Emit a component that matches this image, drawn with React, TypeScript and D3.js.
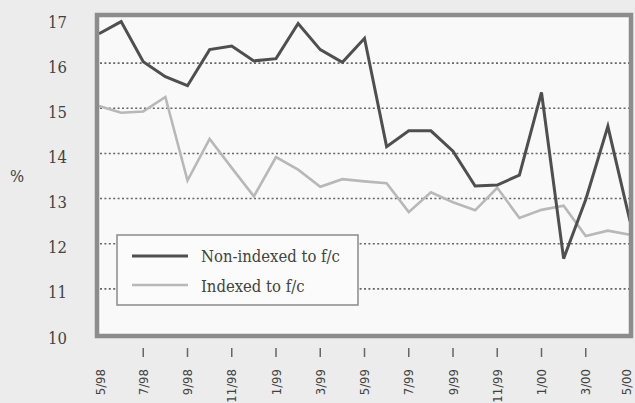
import React from "react";
import * as d3 from "d3";

const months = [
  "5/98","6/98","7/98","8/98","9/98","10/98","11/98","12/98",
  "1/99","2/99","3/99","4/99","5/99","6/99","7/99","8/99","9/99","10/99","11/99","12/99",
  "1/00","2/00","3/00","4/00","5/00",
];
const nonIndexed = [
  16.65, 16.92, 16.03, 15.7, 15.5, 16.3, 16.38, 16.05,
  16.1, 16.88, 16.3, 16.02, 16.55, 14.15, 14.5, 14.5, 14.05, 13.28, 13.3, 13.52,
  15.35, 11.67, 12.98, 14.6, 12.5,
];
const indexed = [
  15.05, 14.9, 14.93, 15.25, 13.4, 14.32, 13.68, 13.05,
  13.92, 13.64, 13.26, 13.43, 13.38, 13.34, 12.7, 13.14, 12.92, 12.74, 13.24, 12.57,
  12.75, 12.84, 12.17, 12.29, 12.2,
];
const yTicks = [10, 11, 12, 13, 14, 15, 16, 17];
const gridValues = [11, 12, 13, 14, 15, 16];
const xTickLabels = ["5/98","7/98","9/98","11/98","1/99","3/99","5/99","7/99","9/99","11/99","1/00","3/00","5/00"];
const legendLabels = ["Non-indexed to f/c", "Indexed to f/c"];

export default function App() {
  const W = 635, H = 403;
  const x = d3.scalePoint<string>().domain(months).range([99, 630]);
  const y = d3.scaleLinear().domain([10, 17]).range([334, 18]);
  const line = d3
    .line<number>()
    .x((_, i) => x(months[i]) as number)
    .y((d) => y(d));

  const serif = "'DejaVu Serif Condensed', 'DejaVu Serif', serif";
  const sans = "'DejaVu Sans Condensed', 'DejaVu Sans', sans-serif";
  const ink = "#424242";

  return (
    <svg
      width={W}
      height={H}
      style={{ position: "absolute", left: 0, top: 0, display: "block" }}
    >
      <rect x={0} y={0} width={W} height={H} fill="#ececec" />
      {/* plot background */}
      <rect x={97} y={15} width={534} height={321} fill="#f9f9f9" />
      {/* gridlines */}
      {gridValues.map((v) => (
        <line
          key={v}
          x1={100}
          x2={629}
          y1={y(v)}
          y2={y(v)}
          stroke="#666"
          strokeWidth={1.6}
          strokeDasharray="2 2.4"
        />
      ))}
      {/* series */}
      <path d={line(indexed) || ""} fill="none" stroke="#b8b8b8" strokeWidth={2.6} strokeLinejoin="miter" />
      <path d={line(nonIndexed) || ""} fill="none" stroke="#4f4f4f" strokeWidth={3} strokeLinejoin="miter" />
      {/* border */}
      <rect x={97} y={15} width={534} height={321} fill="none" stroke="#8c8c8c" strokeWidth={4.5} />
      {/* y labels */}
      {yTicks.map((v) => (
        <text
          key={v}
          x={67}
          y={y(v) + 4}
          textAnchor="end"
          dominantBaseline="central"
          fontFamily={serif}
          fontSize={16.5}
          fill={ink}
        >
          {v}
        </text>
      ))}
      <text x={17} y={176} textAnchor="middle" dominantBaseline="central" fontFamily={serif} fontSize={16.5} fill={ink}>
        %
      </text>
      {/* x ticks and labels */}
      {xTickLabels.map((m, i) => {
        const px = x(m) as number;
        const edge = i === 0 || i === xTickLabels.length - 1;
        const lx = Math.min(Math.max(px, 100), 626);
        return (
          <g key={m}>
            {!edge && (
              <line x1={px} x2={px} y1={348} y2={357} stroke="#666" strokeWidth={1.5} />
            )}
            <text
              transform={`translate(${lx},369) rotate(-90)`}
              textAnchor="end"
              dominantBaseline="central"
              fontFamily={sans}
              fontSize={13}
              fill={ink}
            >
              {m}
            </text>
          </g>
        );
      })}
      {/* legend */}
      <rect x={117} y={235} width={241} height={70} fill="#fbfbfb" stroke="#8a8a8a" strokeWidth={1.5} />
      <line x1={132} x2={188} y1={256} y2={256} stroke="#4f4f4f" strokeWidth={3} />
      <line x1={132} x2={188} y1={285} y2={285} stroke="#b8b8b8" strokeWidth={2.6} />
      <text x={201} y={262} fontFamily={serif} fontSize={16.5} fill={ink}>
        {legendLabels[0]}
      </text>
      <text x={201} y={292} fontFamily={serif} fontSize={16.5} fill={ink}>
        {legendLabels[1]}
      </text>
    </svg>
  );
}
